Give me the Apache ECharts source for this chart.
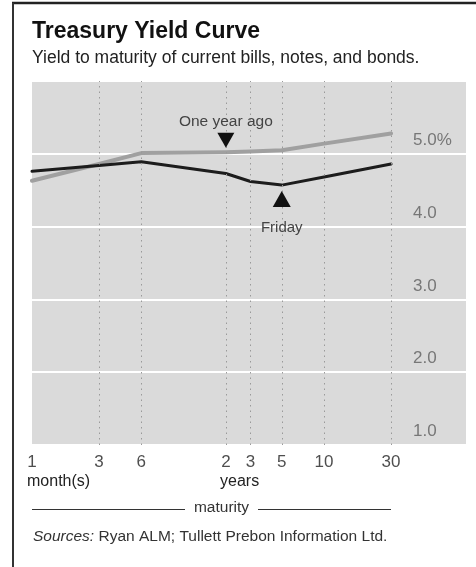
<!DOCTYPE html>
<html>
<head>
<meta charset="utf-8">
<script src="https://cdn.jsdelivr.net/npm/echarts@6/dist/echarts.min.js"></script>
<style>
  html, body { margin: 0; padding: 0; background: #fff; }
  #chart { width: 476px; height: 567px; }
</style>
</head>
<body>
<div id="chart"></div>
<script>
// Maturities in months (1, 3, 6 months; 2, 3, 5, 10, 30 years)
const maturities = [1, 3, 6, 24, 36, 60, 120, 360];
const tickLabels = ['1', '3', '6', '2', '3', '5', '10', '30'];
// Yields in percent
const friday = [4.76, 4.84, 4.89, 4.73, 4.62, 4.57, 4.68, 4.86];
const yearAgo = [4.63, 4.86, 5.01, 5.02, 5.03, 5.05, 5.14, 5.28];
const yTickLabels = { 1: '1.0', 2: '2.0', 3: '3.0', 4: '4.0', 5: '5.0%' };
const yearAgoNoteAt = 24;   // 2 years
const fridayNoteAt = 60;    // 5 years
const xMax = 1230;          // right edge of plot, months

const FONT = "'Liberation Sans', Arial, sans-serif";

const chart = echarts.init(document.getElementById('chart'), null, { renderer: 'canvas' });

function pair(vals) { return maturities.map((m, i) => [m, vals[i]]); }
function valAt(vals, m) { return vals[maturities.indexOf(m)]; }

const option = {
  backgroundColor: '#ffffff',
  animation: false,
  grid: {
    left: 32, right: 10, top: 81, bottom: 122,
    show: true, backgroundColor: '#dadada', borderWidth: 0
  },
  xAxis: {
    type: 'log', logBase: 10, min: 1, max: xMax,
    axisLine: { show: false }, axisTick: { show: false },
    axisLabel: { show: false }, splitLine: { show: false }
  },
  yAxis: {
    type: 'value', min: 1, max: 6, interval: 1, position: 'right',
    axisLine: { show: false }, axisTick: { show: false },
    splitLine: { show: true, lineStyle: { color: '#ffffff', width: 2 } },
    axisLabel: {
      inside: true, align: 'left', margin: 53,
      verticalAlign: 'bottom', padding: [0, 0, 5, 0],
      color: '#777', fontSize: 17, fontFamily: FONT,
      formatter: v => yTickLabels[v] || ''
    }
  },
  series: [
    {
      name: 'One year ago', type: 'line', data: pair(yearAgo),
      symbol: 'none', silent: true,
      lineStyle: { color: '#a0a0a0', width: 4, cap: 'round', join: 'round' },
      z: 3,
      markLine: {
        silent: true, symbol: 'none', label: { show: false },
        lineStyle: { color: '#9a9a9a', width: 1, type: [1.5, 4] },
        data: maturities.slice(1).map(m => ({ xAxis: m }))
      },
      markPoint: {
        silent: true,
        data: [
          {
            coord: [yearAgoNoteAt, valAt(yearAgo, yearAgoNoteAt)],
            symbol: 'triangle', symbolRotate: 180, symbolSize: [17, 15],
            symbolOffset: [0, -12],
            itemStyle: { color: '#111' }, label: { show: false }
          },
          {
            coord: [yearAgoNoteAt, valAt(yearAgo, yearAgoNoteAt)],
            symbol: 'circle', symbolSize: 1, itemStyle: { color: 'rgba(0,0,0,0)' },
            label: {
              show: true, position: 'inside', offset: [0, -31],
              formatter: 'One year ago', color: '#444', fontSize: 15.5, fontFamily: FONT
            }
          }
        ]
      }
    },
    {
      name: 'Friday', type: 'line', data: pair(friday),
      symbol: 'none', silent: true,
      lineStyle: { color: '#1c1c1c', width: 3, cap: 'round', join: 'round' },
      z: 4,
      markPoint: {
        silent: true,
        data: [
          {
            coord: [fridayNoteAt, valAt(friday, fridayNoteAt)],
            symbol: 'triangle', symbolSize: [18, 16],
            symbolOffset: [0, 14],
            itemStyle: { color: '#111' }, label: { show: false }
          },
          {
            coord: [fridayNoteAt, valAt(friday, fridayNoteAt)],
            symbol: 'circle', symbolSize: 1, itemStyle: { color: 'rgba(0,0,0,0)' },
            label: {
              show: true, position: 'inside', offset: [0, 43],
              formatter: 'Friday', color: '#444', fontSize: 15, fontFamily: FONT
            }
          }
        ]
      }
    },
    {
      name: 'ticks', type: 'scatter', silent: true, clip: false,
      data: maturities.map(m => [m, 1]),
      symbolSize: 1, itemStyle: { color: 'rgba(0,0,0,0)' },
      label: {
        show: true, position: 'inside', offset: [0, 17],
        color: '#222', fontSize: 17, fontFamily: FONT,
        formatter: p => tickLabels[p.dataIndex]
      }
    }
  ],
  graphic: [
    { type: 'line', shape: { x1: 12, y1: 3, x2: 476, y2: 3 }, style: { stroke: '#222', lineWidth: 2.5 } },
    { type: 'line', shape: { x1: 13, y1: 3, x2: 13, y2: 567 }, style: { stroke: '#333', lineWidth: 2 } },
    { type: 'text', left: 32, top: 20, style: { text: 'Treasury Yield Curve', font: "bold 23px " + FONT, fill: '#111' } },
    { type: 'text', left: 32, top: 49, style: { text: 'Yield to maturity of current bills, notes, and bonds.', font: "17.5px " + FONT, fill: '#222' } },
    { type: 'text', left: 27, top: 474, style: { text: 'month(s)', font: "16px " + FONT, fill: '#222' } },
    { type: 'text', left: 220, top: 474, style: { text: 'years', font: "16px " + FONT, fill: '#222' } },
    { type: 'line', shape: { x1: 32, y1: 509.5, x2: 185, y2: 509.5 }, style: { stroke: '#333', lineWidth: 1.2 } },
    { type: 'line', shape: { x1: 258, y1: 509.5, x2: 391, y2: 509.5 }, style: { stroke: '#333', lineWidth: 1.2 } },
    { type: 'text', x: 221.5, y: 508, style: { text: 'maturity', font: "15.5px " + FONT, fill: '#333', align: 'center', verticalAlign: 'middle' } },
    {
      type: 'text', x: 33, y: 537,
      style: {
        text: '{i|Sources:} Ryan ALM; Tullett Prebon Information Ltd.',
        font: "15.5px " + FONT, fill: '#333', verticalAlign: 'middle',
        rich: { i: { fontStyle: 'italic', fontSize: 15.5, fontFamily: FONT, fill: '#333' } }
      }
    }
  ]
};

chart.setOption(option);
</script>
</body>
</html>
